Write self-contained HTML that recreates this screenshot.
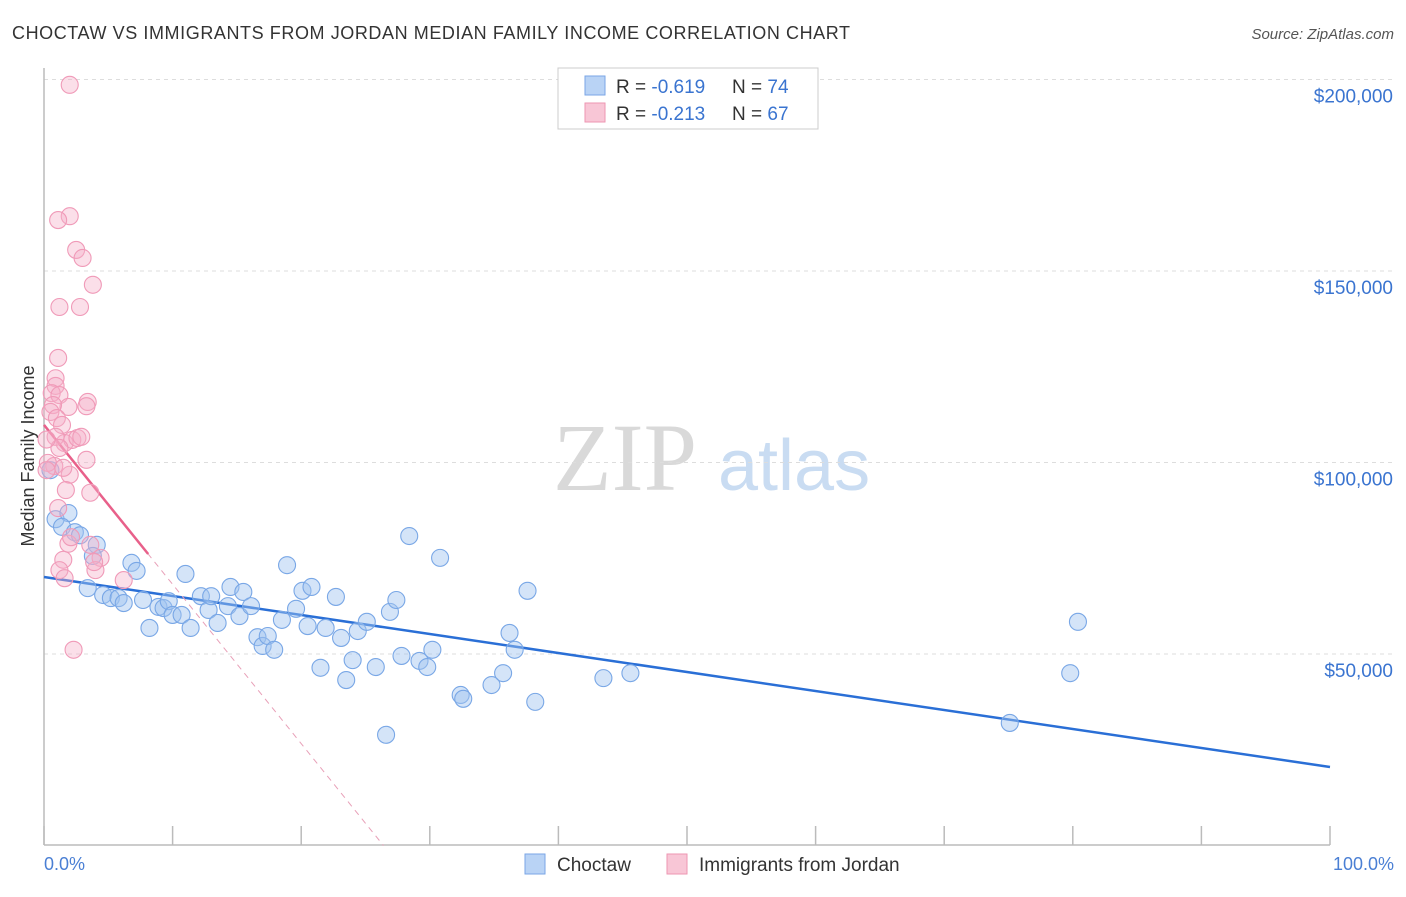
<!DOCTYPE html>
<html><head><meta charset="utf-8"><style>
body{margin:0;background:#fff;font-family:"Liberation Sans",sans-serif;}
svg text{font-family:"Liberation Sans",sans-serif;}
</style></head><body>
<svg id="chart" width="1406" height="892" xmlns="http://www.w3.org/2000/svg">
<text x="12" y="39" font-size="18" fill="#333" textLength="838" lengthAdjust="spacing">CHOCTAW VS IMMIGRANTS FROM JORDAN MEDIAN FAMILY INCOME CORRELATION CHART</text>
<text x="1394" y="39" font-size="15" fill="#555" text-anchor="end" font-style="italic">Source: ZipAtlas.com</text>
<text x="553" y="490" font-size="96" fill="#d9d9d9" font-family="Liberation Serif" style="font-family:'Liberation Serif',serif">ZIP</text>
<text x="718" y="490" font-size="72" fill="#c9dcf2">atlas</text>
<g id="grid"></g>
<line x1="44" y1="68" x2="44" y2="845" stroke="#bbb" stroke-width="1.5"/>
<line x1="44" y1="845" x2="1330" y2="845" stroke="#bbb" stroke-width="1.5"/>
<text transform="translate(34,456) rotate(-90)" font-size="18" fill="#333" text-anchor="middle">Median Family Income</text>
<text x="44" y="870" font-size="18" fill="#4a7fd4">0.0%</text>
<text x="1394" y="870" font-size="18" fill="#4a7fd4" text-anchor="end">100.0%</text>
<g id="trend"></g>
<g id="pts"></g>
<g>
<rect x="558" y="68" width="260" height="61" fill="#fff" stroke="#ccc"/>
<rect x="585" y="76" width="20" height="19" fill="#b9d3f5" stroke="#7aa6e6"/>
<rect x="585" y="103" width="20" height="19" fill="#f8c6d6" stroke="#ee96b2"/>
<text x="616" y="93" font-size="19" fill="#333">R = <tspan fill="#3a74d0">-0.619</tspan></text>
<text x="732" y="93" font-size="19" fill="#333">N = <tspan fill="#3a74d0">74</tspan></text>
<text x="616" y="120" font-size="19" fill="#333">R = <tspan fill="#3a74d0">-0.213</tspan></text>
<text x="732" y="120" font-size="19" fill="#333">N = <tspan fill="#3a74d0">67</tspan></text>
</g>
<g>
<rect x="525" y="854" width="20" height="20" fill="#b9d3f5" stroke="#7aa6e6"/>
<text x="557" y="871" font-size="19" fill="#333">Choctaw</text>
<rect x="667" y="854" width="20" height="20" fill="#f8c6d6" stroke="#ee96b2"/>
<text x="699" y="871" font-size="19" fill="#333">Immigrants from Jordan</text>
</g>
</svg>
<script>
const yTicks=[50000,100000,150000,200000];
const yTickLabels=["$50,000","$100,000","$150,000","$200,000"];
const xTicks=[0,10,20,30,40,50,60,70,80,90,100];
const choctawX=[0.9,1.9,1.4,2.4,2.8,4.1,3.8,6.8,7.2,3.4,4.6,5.2,5.8,6.2,7.7,8.2,8.9,9.3,9.7,10,10.7,11,11.4,12.2,12.8,13,13.5,14.3,14.5,15.2,15.5,16.1,16.6,17,17.4,17.9,18.5,18.9,19.6,20.1,20.5,20.8,21.5,21.9,22.7,23.1,23.5,24,24.4,25.1,25.8,26.6,26.9,27.4,27.8,28.4,29.2,29.8,30.2,30.8,32.4,32.6,34.8,35.7,36.2,36.6,37.6,38.2,43.5,45.6,75.1,79.8,80.4,0.5];
const choctawY=[85.2,86.8,83.2,81.8,81,78.5,75.6,73.8,71.7,67.2,65.4,64.6,64.6,63.3,64.1,56.8,62.3,62,63.8,60.2,60.2,70.9,56.8,65.1,61.5,65.1,58.1,62.5,67.5,59.9,66.2,62.5,54.4,52.1,54.7,51.1,58.9,73.2,61.8,66.5,57.3,67.5,46.4,56.8,64.9,54.2,43.2,48.4,56,58.4,46.6,28.9,61,64.1,49.5,80.8,48.2,46.6,51.1,75.1,39.3,38.3,41.9,45,55.5,51.1,66.5,37.5,43.7,45,32,45,58.4,98];
const jordanX=[2,2,1.1,2.5,3,3.8,1.2,2.8,1.1,0.9,0.9,0.6,1.2,3.4,3.3,1.9,0.7,0.5,1,1.4,1.6,2.2,2.6,2.9,0.9,1.2,3.3,2,0.8,0.3,1.5,3.6,1.7,1.1,1.9,2.1,1.5,1.2,1.6,4.4,3.6,4,3.9,6.2,2.3,0.2,0.2];
const jordanY=[198.6,164.3,163.3,155.5,153.4,146.4,140.6,140.6,127.3,122,120,118.1,117.6,115.8,114.7,114.5,115,113.2,111.6,109.8,105.1,105.9,106.4,106.7,106.7,103.8,100.7,96.8,99.1,99.9,98.6,92.1,92.8,88.1,78.8,80.5,74.6,71.9,69.8,75.1,78.5,71.9,74,69.3,51.1,98,106];
const choctawTrend=[70.1,20.5];
const jordanTrend=[109.8,-4.16,8.1];
const NS="http://www.w3.org/2000/svg";
const X=v=>44+v*12.86;
const Y=v=>845.5-v/50000*191.5;
function mk(tag,attrs,parent){const e=document.createElementNS(NS,tag);for(const k in attrs)e.setAttribute(k,attrs[k]);parent.appendChild(e);return e;}
const grid=document.getElementById('grid');
yTicks.forEach((t,i)=>{
 const l=mk('line',{x1:44,x2:1394,y1:Y(t),y2:Y(t),stroke:'#ddd','stroke-dasharray':'4,4'},grid);
 
 
 const tx=mk('text',{x:1393,y:Y(t)+23,'font-size':19,fill:'#3a74d0','text-anchor':'end'},grid);
 tx.textContent=yTickLabels[i];
 
 
});
xTicks.forEach(t=>{
 const l=mk('line',{x1:X(t),x2:X(t),y1:826,y2:845,stroke:'#bbb','stroke-width':1.5},grid);
 
 
});
const pts=document.getElementById('pts');
choctawX.forEach((x,i)=>{
 const c=mk('circle',{cx:X(x),cy:Y(choctawY[i]*1000),r:8.5,fill:'rgba(160,196,240,0.45)',stroke:'#79a7e6','stroke-width':1.1},pts);
 
 
});
jordanX.forEach((x,i)=>{
 const c=mk('circle',{cx:X(x),cy:Y(jordanY[i]*1000),r:8.5,fill:'rgba(246,176,200,0.4)',stroke:'#f09ab8','stroke-width':1.1},pts);
 
 
});
const tr=document.getElementById('trend');
const b=mk('line',{x1:X(0),y1:Y(choctawTrend[0]*1000),x2:X(100),y2:Y(choctawTrend[1]*1000),stroke:'#2a6fd6','stroke-width':2.5},tr);


const jz=-jordanTrend[0]/jordanTrend[1];
const jd=mk('line',{x1:X(0),y1:Y(jordanTrend[0]*1000),x2:X(jz),y2:Y(0),stroke:'#e8a0b8','stroke-width':1,'stroke-dasharray':'6,5'},tr);


const je=jordanTrend[2];
const js=mk('line',{x1:X(0),y1:Y(jordanTrend[0]*1000),x2:X(je),y2:Y((jordanTrend[0]+jordanTrend[1]*je)*1000),stroke:'#e8608a','stroke-width':2.5},tr);


</script>
</body></html>
